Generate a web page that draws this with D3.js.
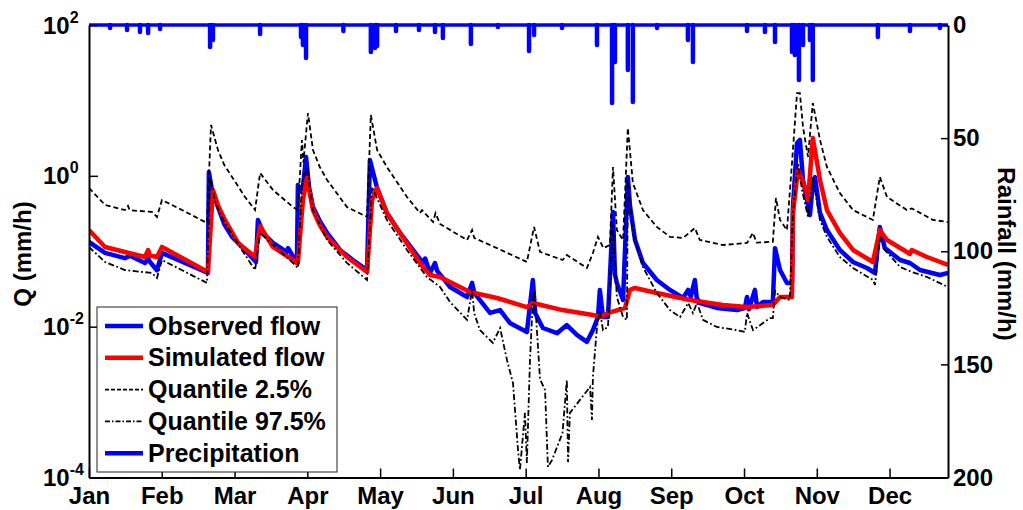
<!DOCTYPE html>
<html>
<head>
<meta charset="utf-8">
<script src="https://cdn.jsdelivr.net/npm/d3@7"></script>
<style>
  body { margin: 0; background: #fff; }
  svg text { font-family: "Liberation Sans", Arial, sans-serif; font-weight: bold; fill: #000; }
</style>
</head>
<body>
<div id="chart"></div>
<script>
// month tick labels (x axis = day of year)
var months = ["Jan", "Feb", "Mar", "Apr", "May", "Jun", "Jul", "Aug", "Sep", "Oct", "Nov", "Dec"];
var qExponents = [-4, -2, 0, 2];
var rainTicks = [0, 50, 100, 150, 200];

// [day, Q mm/h]
var observed = [[0,0.133],[6.7,0.095],[15,0.081],[17.1,0.087],[23.4,0.070],[24.7,0.081],[25.5,0.072],[28.4,0.056],[30.5,0.095],
  [49.7,0.0515],[50.1,1.12],[51.5,0.62],[53.9,0.386],[56.5,0.23],[59.8,0.155],[65.2,0.104],[69.8,0.072],[70.6,0.26],[73,0.17],[76.9,0.129],[82.7,0.0977],[83.2,0.110],
  [86.9,0.0699],[87.3,0.756],[89.2,0.60],[90.7,1.78],[92,0.70],[93.6,0.386],[96.5,0.25],[99.5,0.175],[104.9,0.104],[110.3,0.0766],[116.2,0.0564],[117.4,1.62],
  [120.4,0.690],[124.5,0.322],[130,0.175],[135.4,0.104],[139.6,0.0699],[140.5,0.080],[142.5,0.0515],[144.6,0.0699],[145.5,0.055],
  [150.9,0.0336],[158,0.0247],[160.1,0.0380],[161,0.028],[167.6,0.0152],[171.8,0.0166],[175.9,0.0112],[183,0.0085],[185.5,0.0416],
  [186.5,0.015],[189.7,0.0096],[195.6,0.0082],[199.7,0.0105],[203.9,0.0078],[208.1,0.0063],[210.6,0.009],[212.7,0.0134],[213.5,0.0307],
  [214.8,0.0134],[216.9,0.0134],[219.0,0.332],[219.8,0.05],[220.6,0.038],[223.2,0.0226],[225.2,0.965],[226.1,0.4],[228.2,0.141],
  [231.5,0.0699],[237.3,0.0416],[242.8,0.0307],[248.3,0.0240],[250.4,0.0307],[251.5,0.025],[253.2,0.0416],[254,0.024],[255.3,0.0206],
  [262.4,0.0177],[270.8,0.0166],[274.1,0.0177],[275,0.0247],[275.8,0.017],[278.3,0.0307],[279.2,0.0182],[281.7,0.0212],[285.8,0.0212],
  [286.7,0.110],[288.8,0.0564],[291.7,0.038],[293.8,0.038],[294.2,0.386],[295.9,2.73],[297.1,2.99],[298.4,0.881],[301.3,0.303],
  [302.5,0.804],[303.4,0.965],[305.5,0.322],[308.4,0.191],[313.8,0.104],[319.3,0.0721],[325.1,0.06],[328.5,0.0515],[330.5,0.210],
  [332.6,0.110],[339,0.0766],[343.1,0.0699],[347.3,0.0564],[355.6,0.0484],[359,0.0515]];

var simulated = [[0,0.191],[6.7,0.114],[15,0.0977],[23.4,0.0839],[24.7,0.104],[25.5,0.088],[28.4,0.0839],[30.5,0.114],[49.7,0.0531],
  [51.8,0.649],[54,0.40],[56.8,0.260],[62.3,0.129],[69.4,0.0839],[71.5,0.215],[76.9,0.114],[85.2,0.0766],[87.3,0.0699],[89.4,0.478],[91.1,0.936],
  [93.6,0.352],[96.5,0.22],[99.5,0.155],[107.8,0.0839],[116.2,0.0531],[118.3,0.478],[120.4,0.690],[124.5,0.322],[130,0.175],[138.3,0.0699],
  [142.5,0.0484],[146.7,0.0456],[159.2,0.0288],[170.5,0.0240],[183,0.0182],[185.5,0.0206],[197.9,0.0166],[210.6,0.0143],[213.5,0.0134],
  [217.7,0.0155],[224,0.0177],[226.1,0.0307],[228.2,0.0326],[237.3,0.028],[251.2,0.0226],[264.9,0.0194],[275,0.0182],[285.8,0.0194],
  [288.8,0.0247],[293.8,0.0247],[294.2,0.322],[296.3,1.2],[298.0,0.9],[300,0.592],[300.5,0.478],[302.5,3.18],[305.5,0.881],[308.4,0.352],
  [313.8,0.175],[319.3,0.104],[327.6,0.0721],[330.5,0.191],[333.5,0.141],[341.8,0.0977],[343.1,0.092],[343.9,0.104],[350.2,0.0839],
  [359,0.0657]];

var quantile025 = [[0,0.690],[6.7,0.411],[15,0.352],[16.3,0.40],[17,0.35],[26.3,0.332],[28.4,0.285],[30.5,0.478],[38.9,0.352],
  [49.3,0.237],[51,4.72],[53.9,2.20],[56.5,1.4],[59.8,0.965],[65.2,0.524],[69.4,0.352],[71.5,1.09],[76.9,0.649],[85.2,0.386],[87.3,0.352],
  [89.0,2.99],[89.6,1.5],[91.5,6.81],[93.6,2.20],[96.5,1.3],[99.5,0.881],[107.8,0.386],[116.2,0.285],[117.8,6.41],[120.4,2.20],[124.5,1.31],
  [132.9,0.524],[138.3,0.322],[139.2,0.35],[143.8,0.244],[144.8,0.32],[146.7,0.23],[158,0.141],[160.1,0.191],[161,0.15],[170.5,0.11],
  [183,0.0721],[186,0.210],[188.5,0.098],[197.9,0.0766],[199.7,0.0892],[208.1,0.060],[210.6,0.0948],[212.7,0.155],[215,0.11],
  [217.7,0.121],[219,1.31],[220.6,0.191],[223.2,0.141],[225.2,4.31],[227.3,0.804],[231.5,0.352],[237.3,0.210],[242.8,0.155],
  [248.3,0.150],[253.2,0.203],[255.3,0.141],[264.9,0.121],[275,0.129],[277.5,0.175],[279,0.13],[284.6,0.133],[285.8,0.133],
  [287.1,0.508],[288.8,0.260],[291.7,0.191],[293.8,1.48],[295.9,12.5],[297.1,12.5],[298.4,4.44],[300.5,1.78],[302.5,9.24],
  [305.5,2.99],[308.4,1.31],[313.8,0.592],[319.3,0.352],[327.6,0.260],[330.5,0.965],[333.5,0.524],[341.8,0.352],[343.9,0.37],
  [352.7,0.260],[359,0.244]];

var quantile975 = [[0,0.114],[6.7,0.0721],[15,0.0564],[26.3,0.0515],[28.4,0.0442],[30.5,0.0766],[49.3,0.038],[50.6,0.965],
  [53,0.42],[56.8,0.237],[63.9,0.104],[69.4,0.0564],[71.5,0.175],[85.2,0.070],[87.3,0.06],[89,0.804],[91.1,1.31],[93.6,0.352],[99.5,0.141],
  [107.8,0.070],[116.2,0.0416],[118.3,0.711],[124.5,0.260],[132.9,0.104],[141.2,0.0456],[146.7,0.0336],[150.9,0.0212],[158,0.0123],
  [160.1,0.0307],[161,0.015],[163.4,0.0090],[168.8,0.0061],[171.8,0.0096],[174.7,0.0036],[177.2,0.00179],[179.3,0.00023],
  [180.1,0.000126],[182.2,0.00072],[183,0.000156],[184.3,0.0036],[185.5,0.0226],[186,0.0307],[186.5,0.02],[188.5,0.002],
  [190.6,0.00145],[191.8,0.000138],[193.5,0.00017],[197.9,0.00039],[199.7,0.00196],[200.2,0.00016],[201,0.00072],[209.4,0.00159],
  [210.2,0.00058],[210.6,0.00215],[212.3,0.0099],[213.5,0.0166],[214.8,0.009],[216.9,0.0099],[219,0.237],[220.6,0.0247],
  [223.2,0.0134],[224.8,0.0123],[225.2,0.881],[227.3,0.175],[231.5,0.0618],[237.3,0.028],[242.8,0.0166],[247,0.0134],[250.4,0.0206],
  [252.4,0.0152],[254.1,0.0206],[256.6,0.0123],[262.4,0.0099],[270.8,0.009],[274.1,0.0085],[275,0.0152],[277.5,0.009],[281.7,0.0112],
  [284.6,0.013],[285.8,0.013],[286.7,0.03],[288.8,0.0247],[292.9,0.0226],[294.2,0.322],[296.3,1.48],[298,0.649],[300.5,0.285],
  [302.5,0.965],[305.5,0.260],[308.4,0.155],[313.8,0.0839],[319.3,0.060],[327.6,0.0416],[328.5,0.0357],[330.5,0.155],[332.6,0.104],
  [339,0.0618],[343.9,0.0531],[350.2,0.0456],[359,0.0336]];

// [day, rainfall mm/h]
var rainfall = [[8.8,1.3],[15.9,2.2],[21.3,3.1],[24.7,3.5],[29.7,1.8],[50.6,9.7],[51.8,6.6],[71.5,4.0],[88.6,5.3],[89.4,8.8],
  [90.7,14.6],[106.3,2.7],[117.8,11.9],[119.5,10.2],[120.4,9.3],[128.3,2.7],[137.9,2.2],[144.6,3.1],[147.9,5.7],[159.6,8.4],
  [170.9,0.9],[183.9,11.5],[186.0,4.4],[197.7,1.3],[212.3,8.8],[218.6,34.5],[219.8,16.4],[225.2,19.9],[227.3,34.0],[237.4,1.3],
  [250.3,6.6],[252.4,16.4],[275.0,2.7],[282.5,3.1],[286.7,7.5],[293.8,11.9],[295.0,13.3],[296.7,24.3],[298.4,8.8],[301.3,6.6],
  [302.5,24.3],[329.7,5.3],[343.1,2.7],[355.6,1.3]];

var margin = {top: 25, right: 75, bottom: 32.5, left: 89}
  , width = 1023 - margin.left - margin.right
  , height = 510 - margin.top - margin.bottom;

var x = d3.scaleLinear().domain([0, 359]).range([0, width]);
var y = d3.scaleLog().domain([1e-4, 1e2]).range([height, 0]);
var yRain = d3.scaleLinear().domain([0, 200]).range([0, height]); // reversed, 0 at top

var line = d3.line()
    .x(function(d) { return x(d[0]); })
    .y(function(d) { return y(d[1]); });

var svg = d3.select("#chart").append("svg")
    .attr("width", 1023)
    .attr("height", 510);

var g = svg.append("g")
    .attr("transform", "translate(" + margin.left + "," + margin.top + ")");

g.append("clipPath").attr("id", "clip")
  .append("rect").attr("width", width).attr("height", height);

var plot = g.append("g").attr("clip-path", "url(#clip)");

// flow series
plot.append("path").datum(observed)
    .attr("fill", "none").attr("stroke", "#0000ff").attr("stroke-width", 4.5)
    .attr("stroke-linejoin", "round").attr("d", line);
plot.append("path").datum(simulated)
    .attr("fill", "none").attr("stroke", "#ff0000").attr("stroke-width", 4.5)
    .attr("stroke-linejoin", "round").attr("d", line);
plot.append("path").datum(quantile025)
    .attr("fill", "none").attr("stroke", "#000").attr("stroke-width", 1.8)
    .attr("stroke-dasharray", "5,3").attr("d", line);
plot.append("path").datum(quantile975)
    .attr("fill", "none").attr("stroke", "#000").attr("stroke-width", 1.8)
    .attr("stroke-dasharray", "6,2.5,1.8,2.5").attr("d", line);

// box top edge, then precipitation hanging from the top
g.append("line").attr("x1", 0).attr("x2", width).attr("y1", 0).attr("y2", 0)
    .attr("stroke", "#000").attr("stroke-width", 2);
g.append("line").attr("x1", 0).attr("x2", width).attr("y1", yRain(0)).attr("y2", yRain(0))
    .attr("stroke", "#0000ff").attr("stroke-width", 3.5);
g.selectAll(".rain").data(rainfall)
  .enter().append("line")
    .attr("class", "rain")
    .attr("x1", function(d) { return x(d[0]); })
    .attr("x2", function(d) { return x(d[0]); })
    .attr("y1", yRain(0))
    .attr("y2", function(d) { return yRain(d[1]); })
    .attr("stroke", "#0000ff").attr("stroke-width", 4.5).attr("stroke-linecap", "round");

// axes
var xAxis = g.append("g")
    .attr("transform", "translate(0," + height + ")")
    .call(d3.axisBottom(x)
      .tickValues(months.map(function(m, i) { return i * 365 / 12; }))
      .tickFormat(function(d, i) { return months[i]; })
      .tickSizeInner(-9).tickSizeOuter(0).tickPadding(9));

var yAxis = g.append("g")
    .call(d3.axisLeft(y)
      .tickValues(qExponents.map(function(e) { return Math.pow(10, e); }))
      .tickFormat("")
      .tickSizeInner(-9).tickSizeOuter(0));

var yAxisR = g.append("g")
    .attr("transform", "translate(" + width + ",0)")
    .call(d3.axisRight(yRain)
      .tickValues(rainTicks)
      .tickSizeInner(-7).tickSizeOuter(0).tickPadding(5));

[xAxis, yAxis, yAxisR].forEach(function(a) {
  a.select(".domain").attr("stroke", "#000").attr("stroke-width", 2);
  a.selectAll(".tick line").attr("stroke", "#000").attr("stroke-width", 1.5);
  a.selectAll("text").style("font-size", "24px").attr("fill", "#000");
});

// 10^n labels on the log axis, left aligned like the original
qExponents.forEach(function(e) {
  var t = g.append("text")
      .attr("x", -46)
      .attr("y", y(Math.pow(10, e)) + 8.5)
      .attr("text-anchor", "start")
      .style("font-size", "24px");
  t.append("tspan").text("10");
  t.append("tspan").attr("dy", -11).style("font-size", "16px").text(e);
});

// axis titles
svg.append("text")
    .attr("transform", "translate(31,254) rotate(-90)")
    .attr("text-anchor", "middle").style("font-size", "24px")
    .text("Q (mm/h)");
svg.append("text")
    .attr("transform", "translate(998,254) rotate(90)")
    .attr("text-anchor", "middle").style("font-size", "24px")
    .text("Rainfall (mm/h)");

// legend
var legendItems = [
  {label: "Observed flow", color: "#0000ff", w: 4.5, dash: null},
  {label: "Simulated flow", color: "#ff0000", w: 4.5, dash: null},
  {label: "Quantile 2.5%", color: "#000", w: 1.6, dash: "4,2"},
  {label: "Quantile 97.5%", color: "#000", w: 1.6, dash: "5,2,1.5,2"},
  {label: "Precipitation", color: "#0000ff", w: 4.5, dash: null}
];
var legend = svg.append("g").attr("transform", "translate(97,307)");
legend.append("rect").attr("width", 240).attr("height", 165)
    .attr("fill", "#fff").attr("stroke", "#222").attr("stroke-width", 1);
var rows = legend.selectAll(".item").data(legendItems)
  .enter().append("g")
    .attr("transform", function(d, i) { return "translate(0," + (19 + i * 31.8) + ")"; });
rows.append("line").attr("x1", 8).attr("x2", 46)
    .attr("stroke", function(d) { return d.color; })
    .attr("stroke-width", function(d) { return d.w; })
    .attr("stroke-dasharray", function(d) { return d.dash; });
rows.append("text").attr("x", 51).attr("y", 8.5)
    .style("font-size", "25px")
    .text(function(d) { return d.label; });
</script>
</body>
</html>
